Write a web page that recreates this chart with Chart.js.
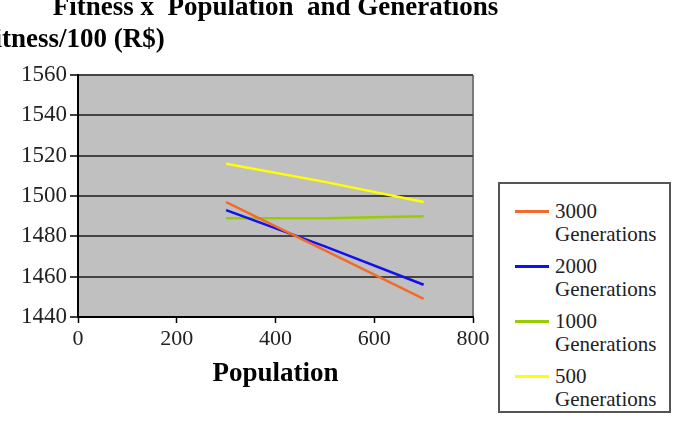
<!DOCTYPE html>
<html>
<head>
<meta charset="utf-8">
<script src="https://cdn.jsdelivr.net/npm/chart.js@4/dist/chart.umd.min.js"></script>
<style>
  html, body { margin: 0; padding: 0; background: #fff; }
  #wrap { position: relative; width: 680px; height: 421px; overflow: hidden; }
  #legend {
    position: absolute; left: 498px; top: 182px; width: 169px; height: 227px;
    border: 2px solid #555; background: #fff;
    font-family: 'Liberation Serif', 'Times New Roman', serif; font-size: 21px; line-height: 23px; color: #222;
  }
  .item { position: absolute; left: 0; width: 169px; }
  .swatch { position: absolute; left: 15px; top: 10px; width: 34px; height: 3px; }
  .label { position: absolute; left: 55px; top: 0; width: 113px; }
</style>
</head>
<body>
<div id="wrap">
  <canvas id="myChart" width="680" height="421" style="width:680px;height:421px"></canvas>
  <div id="legend"></div>
</div>
<script>
const population = [300, 500, 700];
const fit3000 = [1497, 1473, 1449];
const fit2000 = [1493, 1475, 1456];
const fit1000 = [1489, 1489, 1490];
const fit500 = [1516, 1507, 1497];
const generations = [3000, 2000, 1000, 500];
const colors = ['#f26b2a', '#1010f0', '#99cc00', '#ffff00'];
const seriesValues = [fit3000, fit2000, fit1000, fit500];

const serif = "'Liberation Serif', 'Times New Roman', serif";

const datasets = generations.map((g, i) => ({
    label: g + ' Generations',
    data: population.map((p, j) => ({ x: p, y: seriesValues[i][j] })),
    borderColor: colors[i],
    backgroundColor: colors[i],
    borderWidth: 2.5,
    pointRadius: 0,
    tension: 0
}));

// grey plot area, right edge and the cut-off titles
const decor = {
    id: 'decor',
    beforeDraw(chart) {
        const { ctx, chartArea: a } = chart;
        ctx.save();
        ctx.fillStyle = '#c0c0c0';
        ctx.fillRect(a.left, a.top, a.right - a.left, a.bottom - a.top);
        ctx.strokeStyle = '#7a7a7a';
        ctx.lineWidth = 2;
        ctx.beginPath();
        ctx.moveTo(a.right, a.top);
        ctx.lineTo(a.right, a.bottom);
        ctx.stroke();
        ctx.restore();
    },
    afterDraw(chart) {
        const { ctx, chartArea: a } = chart;
        ctx.save();
        ctx.fillStyle = '#000';
        ctx.font = 'bold 27px ' + serif;
        ctx.textBaseline = 'alphabetic';
        ctx.textAlign = 'center';
        ctx.fillText('Fitness x  Population  and Generations', (a.left + a.right) / 2, 15);
        ctx.textAlign = 'left';
        const pre = ctx.measureText('Fi').width;
        ctx.fillText('Fitness/100 (R$)', 2 - pre, 47);
        ctx.restore();
    }
};

const config = {
    type: 'line',
    data: { datasets: datasets },
    options: {
        responsive: false,
        animation: false,
        layout: { padding: { top: 75, right: 207, bottom: 0, left: 0 } },
        plugins: {
            legend: { display: false },
            tooltip: { enabled: false },
            title: { display: false }
        },
        scales: {
            x: {
                type: 'linear',
                min: 0,
                max: 800,
                ticks: { stepSize: 200, color: '#222', font: { family: serif, size: 22 }, padding: 3, maxRotation: 0 },
                grid: { drawOnChartArea: false, drawTicks: true, tickLength: 6, tickColor: '#000', tickWidth: 1.5 },
                border: { color: '#000', width: 2 },
                title: {
                    display: true,
                    text: 'Population',
                    color: '#000',
                    font: { family: serif, size: 27, weight: 'bold' },
                    padding: { top: 0, bottom: 31 }
                },
                afterFit(s) { s.height = 104; }
            },
            y: {
                min: 1440,
                max: 1560,
                ticks: {
                    stepSize: 20, color: '#222', font: { family: serif, size: 23 }, padding: 3,
                    callback: v => String(v)
                },
                grid: { color: '#444', lineWidth: 2, tickLength: 8, tickColor: '#000', tickWidth: 1.5 },
                border: { color: '#000', width: 2 },
                afterFit(s) { s.width = 78; }
            }
        }
    },
    plugins: [decor]
};

const myChart = new Chart(document.getElementById('myChart'), config);

// legend box (two-line labels)
const legend = document.getElementById('legend');
generations.forEach((g, i) => {
    const row = document.createElement('div');
    row.className = 'item';
    row.style.top = (16 + 55 * i) + 'px';
    row.innerHTML = '<div class="swatch" style="background:' + colors[i] + '"></div>' +
        '<div class="label">' + g + ' Generations</div>';
    legend.appendChild(row);
});
</script>
</body>
</html>
